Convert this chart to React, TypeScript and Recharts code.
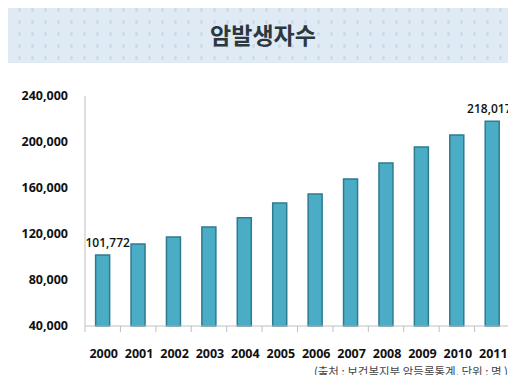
import { BarChart, Bar, XAxis, YAxis, ReferenceDot } from "recharts";
import type { CSSProperties } from "react";

const years = ["2000", "2001", "2002", "2003", "2004", "2005", "2006", "2007", "2008", "2009", "2010", "2011"];
const patients = [101772, 111300, 117400, 126100, 134200, 147000, 154800, 167800, 181700, 195600, 206100, 218017];
const yTicks = [40000, 80000, 120000, 160000, 200000, 240000];
const labeledIdx = [0, 11];

const data = years.map((year, i) => ({ year, value: patients[i] }));

const numFont = "'Open Sans', 'Noto Sans CJK KR', sans-serif";
const krFont = "'Noto Sans CJK KR', 'Open Sans', sans-serif";
const HALF_BAND = 17.7;

const XTick = (props: any) => {
  const { x, y, payload, index, visibleTicksCount } = props;
  const axisY = y - 8;
  return (
    <g>
      <line x1={x - HALF_BAND} x2={x - HALF_BAND} y1={axisY} y2={axisY + 6} stroke="#bfbfbf" />
      {index === visibleTicksCount - 1 && (
        <line x1={x + HALF_BAND} x2={x + HALF_BAND} y1={axisY} y2={axisY + 6} stroke="#bfbfbf" />
      )}
      <text x={x + 1} y={y + 24} textAnchor="middle" fontSize={12.5} fontWeight={700} fill="#111" fontFamily={numFont}>
        {payload.value}
      </text>
    </g>
  );
};

// value labels drawn through ReferenceDot so they are not clipped to the plot area
const valueLabel = (text: string, shift: number) => (props: any) => {
  const { viewBox } = props;
  return (
    <text
      x={viewBox.x + shift}
      y={viewBox.y - 8}
      textAnchor="middle"
      fontSize={12}
      fontWeight={600}
      fill="#111"
      fontFamily={numFont}
    >
      {text}
    </text>
  );
};

export default function App() {
  return (
    <div style={wrap}>
      <div style={titleBand}>
        <span style={titleText}>암발생자수</span>
      </div>
      <BarChart
        width={516}
        height={383}
        data={data}
        margin={{ top: 96, right: 6, bottom: 0, left: 0 }}
        barCategoryGap="30%"
        style={{ position: "absolute", left: 0, top: 0, overflow: "visible" }}
      >
        <XAxis
          dataKey="year"
          axisLine={{ stroke: "#bfbfbf" }}
          tickLine={false}
          tick={<XTick />}
          interval={0}
          height={57}
        />
        <YAxis
          domain={[40000, 240000]}
          ticks={yTicks}
          width={85}
          axisLine={{ stroke: "#bfbfbf" }}
          tickLine={false}
          tickSize={6}
          tickMargin={11}
          tickFormatter={(v: number) => v.toLocaleString("en-US")}
          tick={{ fontSize: 12.5, fontWeight: 700, fill: "#111", fontFamily: numFont }}
        />
        <Bar
          dataKey="value"
          fill="#4bacc6"
          stroke="#2e7b90"
          strokeWidth={1.5}
          isAnimationActive={false}
        />
        {labeledIdx.map((i) => (
          <ReferenceDot
            key={years[i]}
            x={years[i]}
            y={patients[i]}
            r={0}
            fill="none"
            stroke="none"
            ifOverflow="visible"
            label={{ content: valueLabel(patients[i].toLocaleString("en-US"), i === 0 ? 5 : -3) }}
          />
        ))}
      </BarChart>
      <div style={source}>(출처 : 보건복지부 암등록통계, 단위 : 명 )</div>
    </div>
  );
}

const wrap: CSSProperties = {
  position: "relative",
  width: 516,
  height: 383,
  margin: -8,
  background: "#fff",
  overflow: "hidden",
};

const titleBand: CSSProperties = {
  position: "absolute",
  left: 0,
  top: 4,
  width: 516,
  height: 59,
  backgroundColor: "#dfeaf4",
  backgroundImage: "radial-gradient(circle, #cddcea 1.6px, transparent 2px)",
  backgroundSize: "13px 12px",
  display: "flex",
  alignItems: "center",
  justifyContent: "center",
};

const titleText: CSSProperties = {
  fontFamily: krFont,
  fontSize: 23,
  fontWeight: 700,
  color: "#2b3840",
  marginLeft: 10,
};

const source: CSSProperties = {
  position: "absolute",
  right: 8,
  top: 363,
  fontFamily: krFont,
  fontSize: 11.5,
  color: "#444",
  whiteSpace: "nowrap",
};
